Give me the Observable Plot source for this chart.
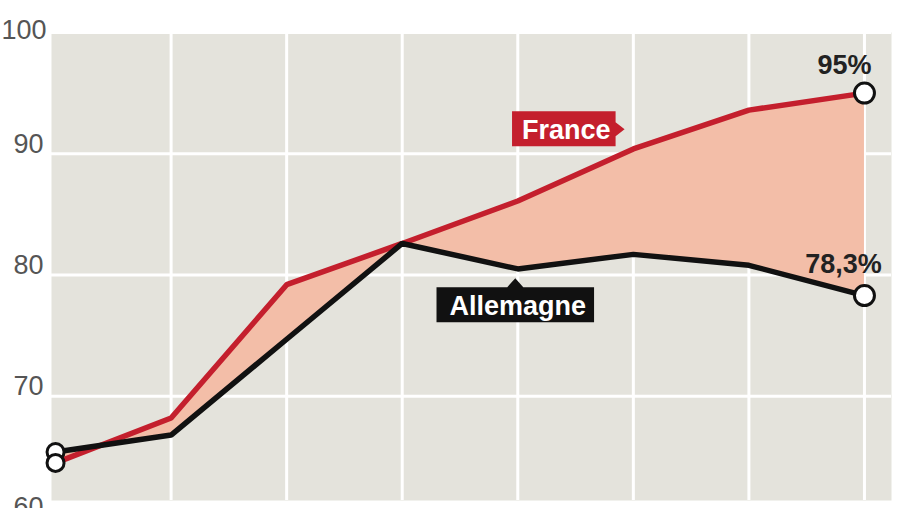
<!DOCTYPE html>
<html><head><meta charset="utf-8">
<script src="https://cdn.jsdelivr.net/npm/d3@7"></script>
<script src="https://cdn.jsdelivr.net/npm/@observablehq/plot@0.6"></script>
<style>
html,body{margin:0;padding:0;background:#fff;}
#chart{width:900px;height:508px;overflow:hidden;}
</style></head><body><div id="chart"></div>
<script>
// Data
const steps = [0, 1, 2, 3, 4, 5, 6, 7];
const france = [64.5, 68.2, 79.2, 82.6, 86.1, 90.4, 93.6, 95];
const allemagne = [65.4, 66.8, 74.7, 82.6, 80.5, 81.7, 80.8, 78.3];
const yTicks = [60, 70, 80, 90];
const yTopTick = [100];
const gridY = [70, 80, 90, 100];
const endLabels = {france: "95%", allemagne: "78,3%"};
const seriesLabels = [
  {name: "France", x: 4.42, y: 91.9},
  {name: "Allemagne", x: 4, y: 77.4}
];

const RED = "#c41f2d", BLACK = "#111", FILL = "#f3bea8", BG = "#e4e3dc";
const FONT = "'Liberation Sans', Arial, sans-serif";

const last = steps.length - 1;
const frRows = steps.map(i => ({x: i, v: france[i]}));
const alRows = steps.map(i => ({x: i, v: allemagne[i]}));

const chart = Plot.plot({
  width: 900,
  height: 508,
  marginTop: 32,
  marginBottom: 8,
  marginLeft: 51,
  marginRight: 9,
  style: {fontFamily: FONT, background: "transparent", overflow: "visible"},
  x: {domain: [-0.035, 7.234], axis: null},
  y: {domain: [61.4, 100], axis: null},
  marks: [
    Plot.frame({fill: BG, stroke: null}),
    Plot.ruleX(steps.slice(1), {stroke: "white", strokeWidth: 3}),
    Plot.ruleY(gridY, {stroke: "white", strokeWidth: 3}),
    Plot.areaY(steps, {x: d => d, y1: d => allemagne[d], y2: d => france[d], fill: FILL}),
    Plot.lineY(frRows, {x: "x", y: "v", stroke: RED, strokeWidth: 5.5, strokeLinejoin: "miter"}),
    Plot.lineY(alRows, {x: "x", y: "v", stroke: BLACK, strokeWidth: 5.5, strokeLinejoin: "miter"}),
    Plot.axisY(yTicks, {tickSize: 0, tickPadding: 8, fontSize: 27, fill: "#555", lineAnchor: "bottom", dy: -1, label: null}),
    Plot.axisY(yTopTick, {tickSize: 0, tickPadding: 5, fontSize: 27, fill: "#555", lineAnchor: "bottom", dy: 6, label: null}),
    Plot.dot([alRows[0]], {x: "x", y: "v", r: 8.5, fill: "white", stroke: BLACK, strokeWidth: 3}),
    Plot.dot([frRows[0]], {x: "x", y: "v", r: 8.5, fill: "white", stroke: BLACK, strokeWidth: 3}),
    Plot.dot([frRows[last], alRows[last]], {x: "x", y: "v", r: 10, fill: "white", stroke: BLACK, strokeWidth: 3}),
    Plot.text([frRows[last]], {x: "x", y: "v", text: () => endLabels.france, fontSize: 27, fontWeight: "bold", fill: "#222", lineAnchor: "bottom", dy: -19, dx: -20}),
    Plot.text([alRows[last]], {x: "x", y: "v", text: () => endLabels.allemagne, fontSize: 27, fontWeight: "bold", fill: "#222", lineAnchor: "bottom", dy: -23, dx: -21}),
    Plot.text(seriesLabels, {x: "x", y: "y", text: "name", fontSize: 27, fontWeight: "bold", fill: "white"})
  ]
});

document.getElementById("chart").appendChild(chart);

// Label boxes behind the series names
d3.select(chart).selectAll("text").each(function() {
  const t = this.textContent;
  if (t !== "France" && t !== "Allemagne") return;
  const b = this.getBBox();
  const cy = b.y + b.height / 2 - 1;
  const x0 = b.x - 10, x1 = b.x + b.width + 5;
  const top = cy - 18, bot = cy + 17;
  let d;
  if (t === "France") {
    d = `M${x0},${top}H${x1}V${cy - 7}L${x1 + 9},${cy}L${x1},${cy + 7}V${bot}H${x0}Z`;
  } else {
    const xa0 = b.x - 13, xa1 = b.x + b.width + 8;
    const acx = (xa0 + xa1) / 2;
    d = `M${xa0},${top}H${acx - 8}L${acx},${top - 9}L${acx + 8},${top}H${xa1}V${bot}H${xa0}Z`;
  }
  const p = document.createElementNS("http://www.w3.org/2000/svg", "path");
  p.setAttribute("d", d);
  p.setAttribute("fill", t === "France" ? RED : BLACK);
  p.setAttribute("stroke", "none");
  const tr = this.getAttribute("transform");
  if (tr) p.setAttribute("transform", tr);
  this.parentNode.insertBefore(p, this);
});
</script>
</body></html>
